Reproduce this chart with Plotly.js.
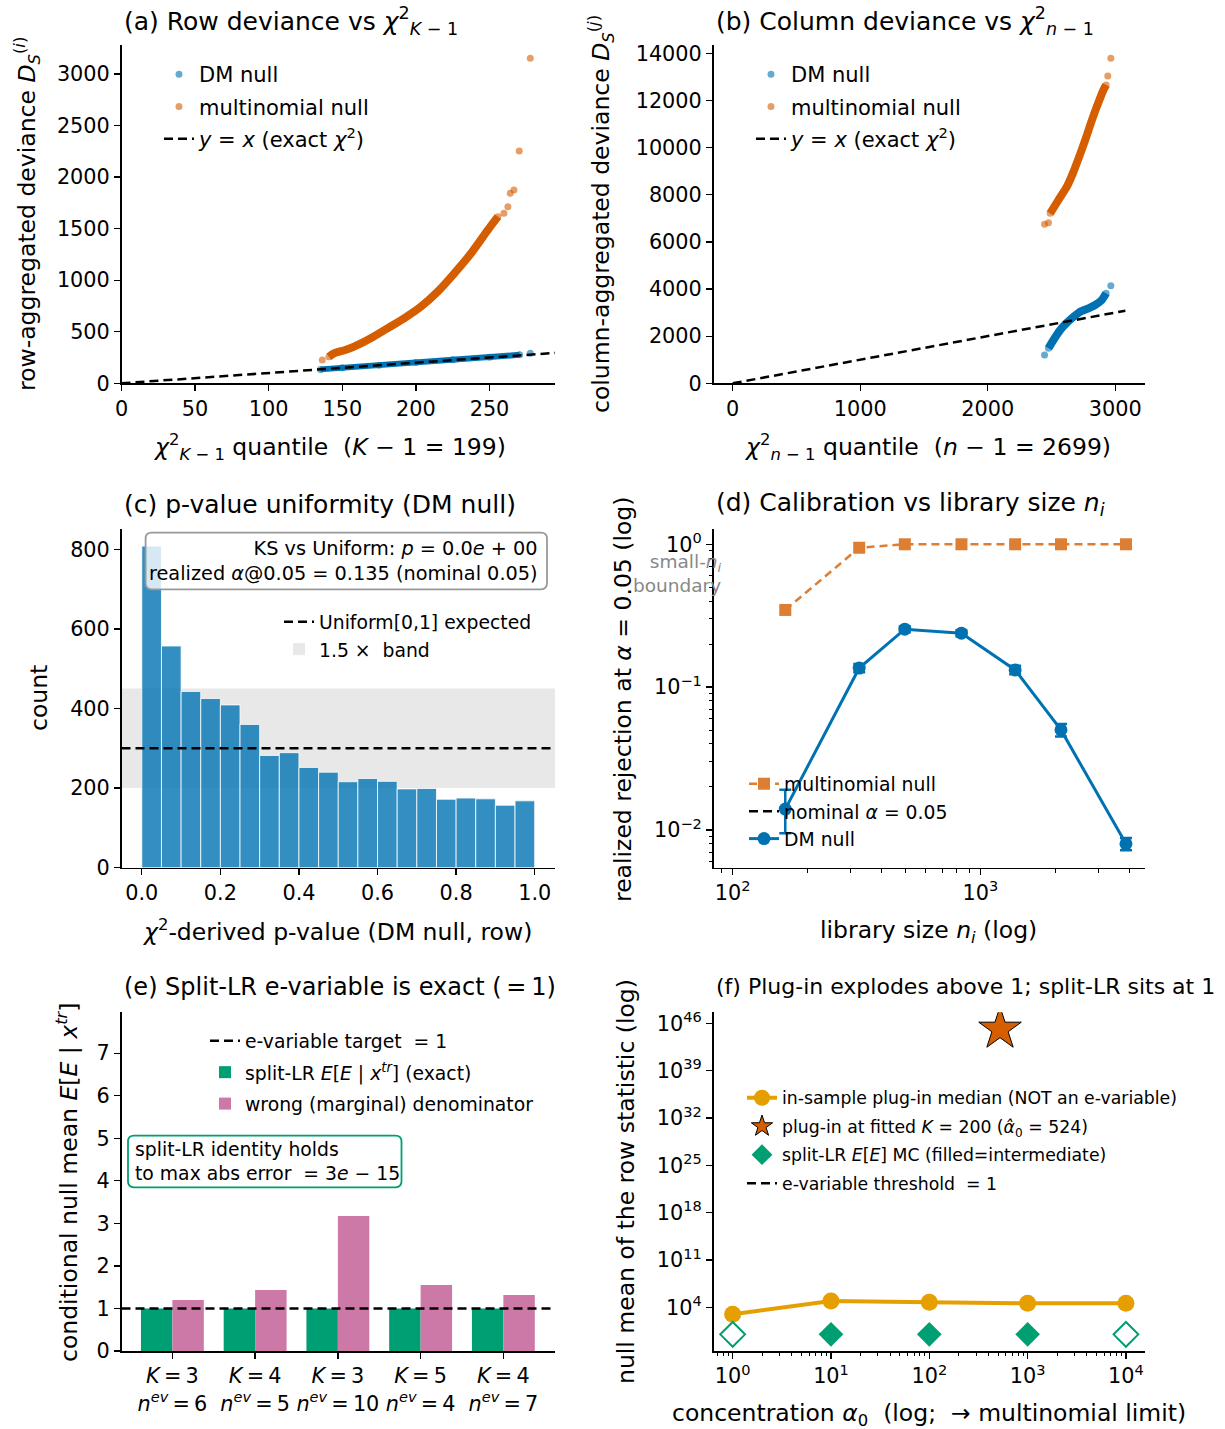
<!DOCTYPE html>
<html><head><meta charset="utf-8">
<script src="https://cdn.plot.ly/plotly-3.0.1.min.js"></script>
<style>html,body{margin:0;padding:0;background:#fff}#chart{width:1225px;height:1429px}</style>
</head><body><div id="chart"></div>
<script>
// ================= DATA =================
// (a) row deviance vs chi2_{K-1} quantile
const rowDMDenseX = [135.2, 150, 175, 200, 225, 250, 270.5];
const rowDMDenseY = [135, 150, 176, 202, 228, 253, 276];
const rowDMTailX = [277.7];
const rowDMTailY = [291];
const rowMultDenseX = [140.9, 144.3, 152, 158, 169.3, 180.7, 192, 203.4, 214.8, 226.1, 237.5, 248.9, 255.7];
const rowMultDenseY = [258, 291, 323, 355, 436, 533, 630, 743, 889, 1067, 1261, 1487, 1616];
const rowMultTailX = [136.4, 259.8, 262.5, 264.1, 266.6, 270.2, 277.7];
const rowMultTailY = [226, 1650, 1713, 1843, 1875, 2253, 3152];
const rowRefLine = [0, 295];

// (b) column deviance vs chi2_{n-1} quantile
const colDMDenseX = [2477, 2516, 2569, 2608, 2660, 2725, 2791, 2843, 2895, 2929];
const colDMDenseY = [1485, 1837, 2261, 2500, 2760, 3039, 3181, 3322, 3534, 3818];
const colDMTailX = [2446, 2966];
const colDMTailY = [1200, 4141];
const colMultDenseX = [2490, 2555, 2621, 2668, 2718, 2765, 2809, 2856, 2908, 2929];
const colMultDenseY = [7212, 7777, 8342, 8908, 9615, 10322, 11031, 11736, 12444, 12656];
const colMultTailX = [2446, 2477, 2942, 2966];
const colMultTailY = [6745, 6816, 13038, 13789];
const colRefLine = [0, 3080];

// (c) p-value histogram
const pvalBinCenters = [0.025, 0.075, 0.125, 0.175, 0.225, 0.275, 0.325, 0.375, 0.425, 0.475,
                        0.525, 0.575, 0.625, 0.675, 0.725, 0.775, 0.825, 0.875, 0.925, 0.975];
const pvalCounts = [808, 557, 443, 425, 409, 360, 282, 289, 252, 240,
                    216, 224, 217, 198, 199, 172, 175, 173, 157, 168];
const pvalBinWidth = 0.05;
const uniformExpected = 300;
const bandLow = 200, bandHigh = 450;

// (d) calibration vs library size
const libSize = [163, 324, 495, 838, 1380, 2113, 3865];
const multRej = [0.347, 0.946, 1.0, 1.0, 1.0, 1.0, 1.0];
const multErr = [0.012, 0.01, 0.002, 0.002, 0.002, 0.002, 0.002];
const dmRej = [0.014, 0.136, 0.2545, 0.2385, 0.132, 0.0502, 0.008];
const dmErrUp = [0.0051, 0.009, 0.012, 0.012, 0.009, 0.005, 0.0008];
const dmErrDown = [0.0045, 0.009, 0.012, 0.012, 0.009, 0.005, 0.0008];
const nominalAlpha = 0.05;
const smallNBoundary = 100;

// (e) split-LR e-variable
const TS = '\u2009';
const eCategories = ['<i>K</i>' + TS + '=' + TS + '3<br><i>n</i><sup><i>ev</i></sup>' + TS + '=' + TS + '6',
                     '<i>K</i>' + TS + '=' + TS + '4<br><i>n</i><sup><i>ev</i></sup>' + TS + '=' + TS + '5',
                     '<i>K</i>' + TS + '=' + TS + '3<br><i>n</i><sup><i>ev</i></sup>' + TS + '=' + TS + '10',
                     '<i>K</i>' + TS + '=' + TS + '5<br><i>n</i><sup><i>ev</i></sup>' + TS + '=' + TS + '4',
                     '<i>K</i>' + TS + '=' + TS + '4<br><i>n</i><sup><i>ev</i></sup>' + TS + '=' + TS + '7'];
const splitLRMean = [1, 1, 1, 1, 1];
const wrongDenomMean = [1.20, 1.434, 3.174, 1.55, 1.317];
const eTarget = 1;

// (f) plug-in vs split-LR
const alpha0 = [1, 10, 100, 1000, 10000];
const plugInMedian = [930, 8.5e4, 5.5e4, 3.9e4, 3.9e4];
const fittedAlpha0 = [524];
const fittedPlugIn = [1.4e45];
const splitLRMC = [1, 1, 1, 1, 1];
const splitIntermediate = [false, true, true, true, false];
const eThreshold = 1;

// ================= STYLE =================
const W = 1225, H = 1429;
const FONT = 'DejaVu Sans, Liberation Sans, sans-serif';
const BLUE = '#0072B2', VERM = '#D55E00', GOLD = '#E69F00', GREEN = '#009E73', PINK = '#CC79A7';
const px = v => v / W, py = v => 1 - v / H;
const BOX = {
  a: {x: [121.5, 555], y: [45, 383.3]},
  b: {x: [713.5, 1145], y: [45, 383.3]},
  c: {x: [121.5, 555], y: [529, 867.7]},
  d: {x: [713.5, 1145], y: [529, 867.7]},
  e: {x: [121.5, 555], y: [1012.3, 1351]},
  f: {x: [713.5, 1145], y: [1012.3, 1351]}
};
const dom = b => ({x: [px(b.x[0]), px(b.x[1])], y: [py(b.y[1]), py(b.y[0])]});
const TICKFONT = {family: FONT, size: 20.8, color: '#000'};
function axis(extra) {
  return Object.assign({
    showline: true, linecolor: '#000', linewidth: 1.5, mirror: false,
    ticks: 'outside', ticklen: 6, tickwidth: 1.3, tickcolor: '#000',
    showgrid: false, zeroline: false, tickfont: TICKFONT,
    exponentformat: 'none', separatethousands: false, fixedrange: true
  }, extra);
}
function minorTicks(vals) {
  return {tickmode: 'array', tickvals: vals, ticks: 'outside', ticklen: 3.5, tickwidth: 1, tickcolor: '#000', showgrid: false};
}
function logMinor(lo, hi) { // lo, hi in decades
  const v = [];
  for (let d = lo; d <= hi; d++) for (let m = 2; m <= 9; m++) v.push(m * Math.pow(10, d));
  return v;
}
function roundedBox(x0, y0, x1, y1, r) { // pixel box -> paper path with rounded corners
  const X = v => px(v).toFixed(5), Y = v => py(v).toFixed(5);
  return 'M' + X(x0 + r) + ',' + Y(y0) + ' L' + X(x1 - r) + ',' + Y(y0) +
    ' Q' + X(x1) + ',' + Y(y0) + ' ' + X(x1) + ',' + Y(y0 + r) +
    ' L' + X(x1) + ',' + Y(y1 - r) + ' Q' + X(x1) + ',' + Y(y1) + ' ' + X(x1 - r) + ',' + Y(y1) +
    ' L' + X(x0 + r) + ',' + Y(y1) + ' Q' + X(x0) + ',' + Y(y1) + ' ' + X(x0) + ',' + Y(y1 - r) +
    ' L' + X(x0) + ',' + Y(y0 + r) + ' Q' + X(x0) + ',' + Y(y0) + ' ' + X(x0 + r) + ',' + Y(y0) + ' Z';
}
const dashed = '9px,5px';

// ================= TRACES =================
const traces = [];
// (a)
traces.push({type: 'scatter', mode: 'lines', x: rowDMDenseX, y: rowDMDenseY, xaxis: 'x', yaxis: 'y',
  line: {color: BLUE, width: 6}, showlegend: false, hoverinfo: 'skip'});
traces.push({type: 'scatter', mode: 'lines', x: rowMultDenseX, y: rowMultDenseY, xaxis: 'x', yaxis: 'y',
  line: {color: VERM, width: 8, shape: 'spline', smoothing: 0.6}, showlegend: false, hoverinfo: 'skip'});
traces.push({type: 'scatter', mode: 'markers', x: rowDMDenseX.concat(rowDMTailX), y: rowDMDenseY.concat(rowDMTailY),
  xaxis: 'x', yaxis: 'y', marker: {color: 'rgba(0,114,178,0.6)', size: 7}, name: 'DM null',
  legend: 'legend', legendgroup: 'a1', legendrank: 1});
traces.push({type: 'scatter', mode: 'markers', x: rowMultDenseX.concat(rowMultTailX), y: rowMultDenseY.concat(rowMultTailY),
  xaxis: 'x', yaxis: 'y', marker: {color: 'rgba(213,94,0,0.6)', size: 7}, name: 'multinomial null',
  legend: 'legend', legendgroup: 'a2', legendrank: 2});
traces.push({type: 'scatter', mode: 'lines', x: rowRefLine, y: rowRefLine, xaxis: 'x', yaxis: 'y',
  line: {color: '#000', width: 2.5, dash: dashed}, name: '<i>y</i> = <i>x</i> (exact <i>χ</i><sup>2</sup>)',
  legend: 'legend', legendgroup: 'a3', legendrank: 3});
// (b)
traces.push({type: 'scatter', mode: 'lines', x: colDMDenseX, y: colDMDenseY, xaxis: 'x2', yaxis: 'y2',
  line: {color: BLUE, width: 8, shape: 'spline', smoothing: 0.6}, showlegend: false, hoverinfo: 'skip'});
traces.push({type: 'scatter', mode: 'lines', x: colMultDenseX, y: colMultDenseY, xaxis: 'x2', yaxis: 'y2',
  line: {color: VERM, width: 8, shape: 'spline', smoothing: 0.6}, showlegend: false, hoverinfo: 'skip'});
traces.push({type: 'scatter', mode: 'markers', x: colDMDenseX.concat(colDMTailX), y: colDMDenseY.concat(colDMTailY),
  xaxis: 'x2', yaxis: 'y2', marker: {color: 'rgba(0,114,178,0.6)', size: 7}, name: 'DM null',
  legend: 'legend2', legendgroup: 'b1', legendrank: 1});
traces.push({type: 'scatter', mode: 'markers', x: colMultDenseX.concat(colMultTailX), y: colMultDenseY.concat(colMultTailY),
  xaxis: 'x2', yaxis: 'y2', marker: {color: 'rgba(213,94,0,0.6)', size: 7}, name: 'multinomial null',
  legend: 'legend2', legendgroup: 'b2', legendrank: 2});
traces.push({type: 'scatter', mode: 'lines', x: colRefLine, y: colRefLine, xaxis: 'x2', yaxis: 'y2',
  line: {color: '#000', width: 2.5, dash: dashed}, name: '<i>y</i> = <i>x</i> (exact <i>χ</i><sup>2</sup>)',
  legend: 'legend2', legendgroup: 'b3', legendrank: 3});
// (c)
traces.push({type: 'bar', x: pvalBinCenters, y: pvalCounts, width: pvalBinWidth, xaxis: 'x3', yaxis: 'y3',
  marker: {color: 'rgba(0,114,178,0.8)', line: {color: '#fff', width: 0.8}}, showlegend: false});
// (d)
traces.push({type: 'scatter', mode: 'lines+markers', x: libSize, y: multRej, xaxis: 'x4', yaxis: 'y4', opacity: 0.8,
  line: {color: VERM, width: 2.5, dash: '8px,5px'}, marker: {symbol: 'square', size: 12, color: VERM},
  error_y: {type: 'data', array: multErr, color: VERM, thickness: 2, width: 5},
  name: 'multinomial null', legend: 'legend4', legendrank: 1});
traces.push({type: 'scatter', mode: 'lines+markers', x: libSize, y: dmRej, xaxis: 'x4', yaxis: 'y4',
  line: {color: BLUE, width: 3}, marker: {symbol: 'circle', size: 13, color: BLUE},
  error_y: {type: 'data', array: dmErrUp, arrayminus: dmErrDown, color: BLUE, thickness: 2.5, width: 6},
  name: 'DM null', legend: 'legend4', legendrank: 3});
// (e)
traces.push({type: 'bar', x: eCategories, y: splitLRMean, width: 0.38, offset: -0.38, xaxis: 'x5', yaxis: 'y5',
  marker: {color: GREEN}, name: 'split-LR <i>E</i>[<i>E</i> | <i>x</i><sup><i>tr</i></sup>] (exact)',
  legend: 'legend5', legendgroup: 'e2', legendrank: 2});
traces.push({type: 'bar', x: eCategories, y: wrongDenomMean, width: 0.38, offset: 0, xaxis: 'x5', yaxis: 'y5',
  marker: {color: PINK}, name: 'wrong (marginal) denominator', legend: 'legend5', legendgroup: 'e3', legendrank: 3});
// (f)
traces.push({type: 'scatter', mode: 'lines+markers', x: alpha0, y: plugInMedian, xaxis: 'x6', yaxis: 'y6',
  line: {color: GOLD, width: 4}, marker: {symbol: 'circle', size: 17, color: GOLD},
  name: 'in-sample plug-in median (NOT an e-variable)', legend: 'legend6', legendgroup: 'f1', legendrank: 1});
traces.push({type: 'scatter', mode: 'markers', x: fittedAlpha0, y: fittedPlugIn, xaxis: 'x6', yaxis: 'y6',
  marker: {symbol: 'star', size: 32, color: VERM, line: {color: '#000', width: 1}},
  name: 'plug-in at fitted <i>K</i> = 200 (<i>α̂</i><sub>0</sub> = 524)', legend: 'legend6', legendgroup: 'f2', legendrank: 2});
traces.push({type: 'scatter', mode: 'markers',
  x: alpha0.filter((v, i) => splitIntermediate[i]), y: splitLRMC.filter((v, i) => splitIntermediate[i]),
  xaxis: 'x6', yaxis: 'y6', marker: {symbol: 'diamond', size: 19, color: GREEN},
  name: 'split-LR <i>E</i>[<i>E</i>] MC (filled=intermediate)', legend: 'legend6', legendgroup: 'f3', legendrank: 3});
traces.push({type: 'scatter', mode: 'markers',
  x: alpha0.filter((v, i) => !splitIntermediate[i]), y: splitLRMC.filter((v, i) => !splitIntermediate[i]),
  xaxis: 'x6', yaxis: 'y6', marker: {symbol: 'diamond', size: 19, color: '#fff', line: {color: GREEN, width: 2}},
  showlegend: false});

// ================= SHAPES =================
const shapes = [
  // (c) band + expected line
  {type: 'rect', xref: 'x3 domain', x0: 0, x1: 1, yref: 'y3', y0: bandLow, y1: bandHigh, layer: 'below',
   fillcolor: '#e8e8e8', line: {width: 0}, showlegend: true, legend: 'legend3', name: '1.5 ×  band', legendrank: 2},
  {type: 'line', xref: 'x3 domain', x0: 0, x1: 1, yref: 'y3', y0: uniformExpected, y1: uniformExpected, layer: 'above',
   line: {color: '#000', width: 2.5, dash: dashed}, showlegend: true, legend: 'legend3', name: 'Uniform[0,1] expected', legendrank: 1},
  // (c) KS text box (rounded)
  {type: 'path', xref: 'paper', yref: 'paper', path: roundedBox(145.6, 532.7, 547, 589.3, 6), layer: 'above',
   fillcolor: 'rgba(255,255,255,0.8)', line: {color: '#999', width: 1.8}},
  // (d)
  {type: 'line', xref: 'x4', x0: Math.log10(smallNBoundary), x1: Math.log10(smallNBoundary), yref: 'y4 domain', y0: 0, y1: 1,
   layer: 'below', line: {color: '#999', width: 2, dash: '2px,4px'}},
  {type: 'line', xref: 'x4 domain', x0: 0, x1: 1, yref: 'y4', y0: Math.log10(nominalAlpha), y1: Math.log10(nominalAlpha), layer: 'below',
   line: {color: '#000', width: 2.5, dash: dashed}, showlegend: true, legend: 'legend4', name: 'nominal <i>α</i> = 0.05', legendrank: 2},
  // (e)
  {type: 'line', xref: 'x5 domain', x0: 0, x1: 1, yref: 'y5', y0: eTarget, y1: eTarget, layer: 'above',
   line: {color: '#000', width: 2.5, dash: dashed}, showlegend: true, legend: 'legend5', legendgroup: 'e1',
   name: 'e-variable target  = 1', legendrank: 1},
  // (e) identity text box (rounded)
  {type: 'path', xref: 'paper', yref: 'paper', path: roundedBox(128, 1135.7, 401.5, 1187.3, 6), layer: 'above',
   fillcolor: 'rgba(255,255,255,0.8)', line: {color: GREEN, width: 1.8}},
  // (f)
  {type: 'line', xref: 'x6 domain', x0: 0, x1: 1, yref: 'y6', y0: Math.log10(eThreshold), y1: Math.log10(eThreshold), layer: 'below',
   line: {color: '#000', width: 2.5, dash: dashed}, showlegend: true, legend: 'legend6', legendgroup: 'f4',
   name: 'e-variable threshold  = 1', legendrank: 4}
];

// ================= ANNOTATIONS =================
const annotations = [];
function ann(text, x, y, o) {
  annotations.push(Object.assign({text: text, xref: 'paper', yref: 'paper', x: px(x), y: py(y),
    showarrow: false, xanchor: 'center', yanchor: 'middle', font: {family: FONT, size: 23.5, color: '#000'}}, o || {}));
}
const TF = {family: FONT, size: 25, color: '#000'};
ann('(a) Row deviance vs <i>χ</i><sup>2</sup><sub><i>K</i> − 1</sub>', 121.5, 21, {xanchor: 'left', font: TF});
ann('(b) Column deviance vs <i>χ</i><sup>2</sup><sub><i>n</i> − 1</sub>', 713.5, 21, {xanchor: 'left', font: TF});
ann('(c) p-value uniformity (DM null)', 121.5, 504, {xanchor: 'left', font: TF});
ann('(d) Calibration vs library size <i>n</i><sub><i>i</i></sub>', 713.5, 504, {xanchor: 'left', font: TF});
ann('(e) Split-LR e-variable is exact (\u2009=\u20091)', 121.5, 987, {xanchor: 'left', font: {family: FONT, size: 24, color: '#000'}});
ann('(f) Plug-in explodes above 1; split-LR sits at 1', 713.5, 987, {xanchor: 'left', font: {family: FONT, size: 22, color: '#000'}});
// axis titles
ann('row-aggregated deviance <i>D</i><sub><i>S</i></sub><sup>(<i>i</i>)</sup>', 27, 214, {textangle: -90});
ann('<i>χ</i><sup>2</sup><sub><i>K</i> − 1</sub> quantile\u00a0\u00a0(<i>K</i> − 1 = 199)', 329, 447);
ann('column-aggregated deviance <i>D</i><sub><i>S</i></sub><sup>(<i>j</i>)</sup>', 601, 214, {textangle: -90});
ann('<i>χ</i><sup>2</sup><sub><i>n</i> − 1</sub> quantile\u00a0\u00a0(<i>n</i> − 1 = 2699)', 927, 447);
ann('count', 39, 698, {textangle: -90});
ann('<i>χ</i><sup>2</sup>-derived p-value (DM null, row)', 337, 930);
ann('realized rejection at <i>α</i> = 0.05 (log)', 623, 700, {textangle: -90});
ann('library size <i>n</i><sub><i>i</i></sub> (log)', 928, 931);
ann('conditional null mean <i>E</i>[<i>E</i> | <i>x</i><sup><i>tr</i></sup>]', 67, 1182, {textangle: -90});
ann('null mean of the row statistic (log)', 626, 1182, {textangle: -90});
ann('concentration <i>α</i><sub>0</sub>\u00a0\u00a0(log;\u00a0 → multinomial limit)', 929, 1414);
// text inside boxes
ann('KS vs Uniform: <i>p</i> = 0.0<i>e</i> + 00<br>realized <i>α</i>@0.05 = 0.135 (nominal 0.05)', 540, 561,
  {xanchor: 'right', yanchor: 'middle', align: 'right', font: {family: FONT, size: 19.3, color: '#000'}});
ann('split-LR identity holds<br>to max abs error  = 3<i>e</i> − 15', 133, 1161,
  {xanchor: 'left', yanchor: 'middle', align: 'left', font: {family: FONT, size: 18.8, color: '#000'}});
ann('small-<i>n</i><sub><i>i</i></sub><br>boundary', 723.5, 573,
  {xanchor: 'right', align: 'right', font: {family: FONT, size: 18.5, color: '#888'}});

// ================= LAYOUT =================
function legend(x, y, size, gap) {
  return {x: px(x), y: py(y), xanchor: 'left', yanchor: 'top', bgcolor: 'rgba(0,0,0,0)', borderwidth: 0,
    font: {family: FONT, size: size, color: '#000'}, itemclick: false, itemdoubleclick: false,
    tracegroupgap: gap || 0};
}
const dA = dom(BOX.a), dB = dom(BOX.b), dC = dom(BOX.c), dD = dom(BOX.d), dE = dom(BOX.e), dF = dom(BOX.f);
const layout = {
  width: W, height: H, margin: {l: 0, r: 0, t: 0, b: 0},
  paper_bgcolor: '#fff', plot_bgcolor: 'rgba(0,0,0,0)',
  font: {family: FONT, color: '#000'}, showlegend: true, barmode: 'overlay', hovermode: false,
  xaxis: axis({domain: dA.x, anchor: 'y', range: [0, 294.5], dtick: 50, tick0: 0}),
  yaxis: axis({domain: dA.y, anchor: 'x', range: [0, 3281], dtick: 500, tick0: 0}),
  xaxis2: axis({domain: dB.x, anchor: 'y2', range: [-150.6, 3234], dtick: 1000, tick0: 0, tickformat: 'd'}),
  yaxis2: axis({domain: dB.y, anchor: 'x2', range: [0, 14353], dtick: 2000, tick0: 0, tickformat: 'd'}),
  xaxis3: axis({domain: dC.x, anchor: 'y3', range: [-0.0517, 1.0517], dtick: 0.2, tick0: 0, tickformat: '.1f'}),
  yaxis3: axis({domain: dC.y, anchor: 'x3', range: [0, 851], dtick: 200, tick0: 0}),
  xaxis4: axis({domain: dD.x, anchor: 'y4', type: 'log', range: [1.9225, 3.664],
    tickmode: 'array', tickvals: [100, 1000], ticktext: ['10<sup>2</sup>', '10<sup>3</sup>'],
    minor: minorTicks(logMinor(1, 3))}),
  yaxis4: axis({domain: dD.y, anchor: 'x4', type: 'log', range: [-2.264, 0.107],
    tickmode: 'array', tickvals: [0.01, 0.1, 1], ticktext: ['10<sup>−2</sup>', '10<sup>−1</sup>', '10<sup>0</sup>'],
    minor: minorTicks(logMinor(-3, -1))}),
  xaxis5: axis({domain: dE.x, anchor: 'y5', type: 'category', range: [-0.615, 4.624], tickangle: 0}),
  yaxis5: axis({domain: dE.y, anchor: 'x5', range: [0, 7.96], dtick: 1, tick0: 0}),
  xaxis6: axis({domain: dF.x, anchor: 'y6', type: 'log', range: [-0.195, 4.194],
    tickmode: 'array', tickvals: [1, 10, 100, 1000, 10000],
    ticktext: ['10<sup>0</sup>', '10<sup>1</sup>', '10<sup>2</sup>', '10<sup>3</sup>', '10<sup>4</sup>'],
    minor: minorTicks(logMinor(-1, 3))}),
  yaxis6: axis({domain: dF.y, anchor: 'x6', type: 'log', range: [-2.46, 47.63],
    tickmode: 'array', tickvals: [1e4, 1e11, 1e18, 1e25, 1e32, 1e39, 1e46],
    ticktext: ['10<sup>4</sup>', '10<sup>11</sup>', '10<sup>18</sup>', '10<sup>25</sup>', '10<sup>32</sup>', '10<sup>39</sup>', '10<sup>46</sup>']}),
  legend: legend(159, 54, 21, 2),
  legend2: legend(751, 54, 21, 2),
  legend3: legend(279, 603, 18.8),
  legend4: legend(744, 765, 18.8),
  legend5: legend(205, 1022, 18.8, 4),
  legend6: legend(742, 1080, 17.3, 3),
  shapes: shapes,
  annotations: annotations
};
Plotly.newPlot('chart', traces, layout, {staticPlot: true, displayModeBar: false});
</script></body></html>
